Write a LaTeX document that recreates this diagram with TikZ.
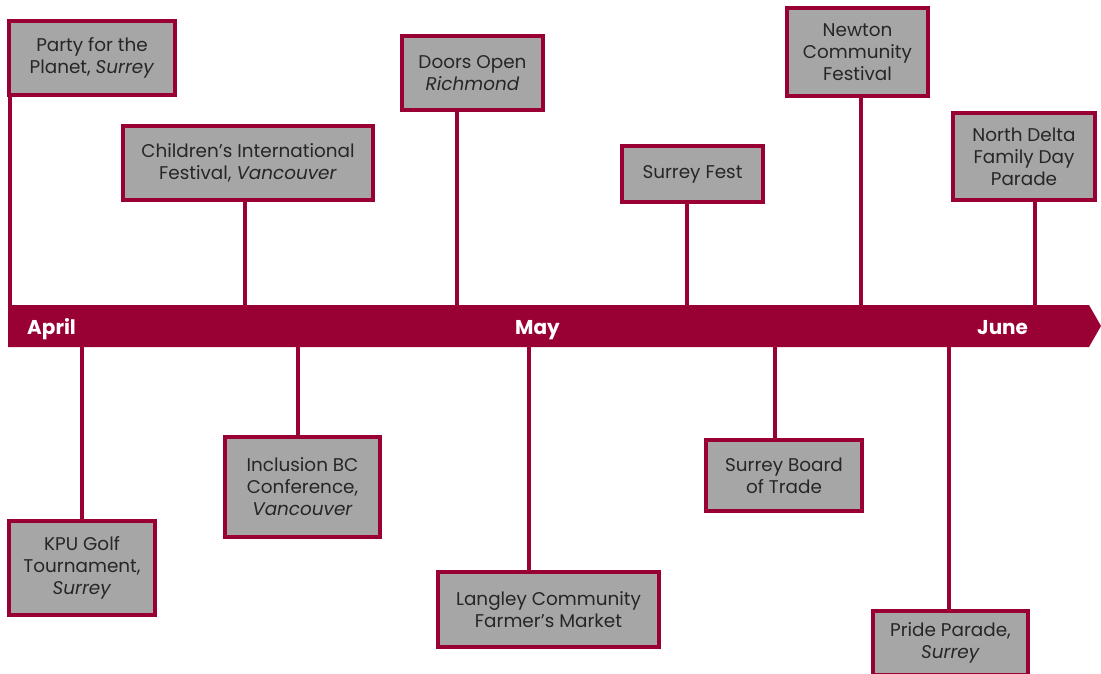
\documentclass[tikz,border=0pt]{standalone}
\usepackage{fontspec}
\setmainfont{Poppins}
\usepackage{tikz}
\usetikzlibrary{positioning,calc}
\definecolor{berry}{RGB}{153,0,51}
\definecolor{boxgrey}{RGB}{166,166,166}
\definecolor{ink}{RGB}{38,38,38}

\begin{document}
\begin{tikzpicture}[x=1pt,y=-1pt,
  event/.style={draw=berry, fill=boxgrey, line width=3.5pt, rectangle, inner sep=0pt, align=center, text=ink, font=\fontsize{18.4}{22}\selectfont},
  stem/.style={draw=berry, line width=4pt},
  month/.style={anchor=base west, text=white, inner sep=0pt, font=\bfseries\fontsize{20}{22}\selectfont}
  ]
  \useasboundingbox (0,0) rectangle (1101,673);

  % Bar
  \fill[berry] (8,305) -- (1089,305) -- (1101,326) -- (1089,347) -- (8,347) -- cycle;
  \node[month] (april) at (27,334) {April};
  \node[month] (may) at (515,334) {May};
  \node[month] (june) at (977,334) {June};

  % Events above
  \node[event, minimum width=166pt, minimum height=74pt] (party) at (92,58) {Party for the\\Planet, \textit{Surrey}};
  \node[event, minimum width=250pt, minimum height=74pt] (kids) at (248,163) {Children’s International\\Festival, \textit{Vancouver}};
  \node[event, minimum width=141pt, minimum height=74pt] (doors) at (472.5,73) {Doors Open\\\textit{Richmond}};
  \node[event, minimum width=141pt, minimum height=56pt] (fest) at (692.5,174) {Surrey Fest};
  \node[event, minimum width=141pt, minimum height=88pt] (newton) at (857.5,52) {Newton\\Community\\Festival};
  \node[event, minimum width=142pt, minimum height=87pt] (delta) at (1024,156.5) {North Delta\\Family Day\\Parade};

  % Events below
  \node[event, minimum width=146pt, minimum height=94pt] (kpu) at (82,568) {KPU Golf\\Tournament,\\\textit{Surrey}};
  \node[event, minimum width=155pt, minimum height=100pt] (incl) at (302.5,487) {Inclusion BC\\Conference,\\\textit{Vancouver}};
  \node[event, minimum width=221pt, minimum height=75pt] (langley) at (548.5,609.5) {Langley Community\\Farmer’s Market};
  \node[event, minimum width=156pt, minimum height=71pt] (board) at (784,475.5) {Surrey Board\\of Trade};
  \node[event, minimum width=155pt, minimum height=64pt] (pride) at (950.5,643) {Pride Parade,\\\textit{Surrey}};

  % Stems
  \coordinate (u1) at (10,305);
  \coordinate (u2) at (245,305);
  \coordinate (u3) at (457,305);
  \coordinate (u4) at (687,305);
  \coordinate (u5) at (861,305);
  \coordinate (u6) at (1035,305);
  \coordinate (d1) at (82,347);
  \coordinate (d2) at (298,347);
  \coordinate (d3) at (529,347);
  \coordinate (d4) at (775,347);
  \coordinate (d5) at (949,347);
  \draw[stem] (u1) -- (u1 |- party.south);
  \draw[stem] (u2) -- (u2 |- kids.south);
  \draw[stem] (u3) -- (u3 |- doors.south);
  \draw[stem] (u4) -- (u4 |- fest.south);
  \draw[stem] (u5) -- (u5 |- newton.south);
  \draw[stem] (u6) -- (u6 |- delta.south);
  \draw[stem] (d1) -- (d1 |- kpu.north);
  \draw[stem] (d2) -- (d2 |- incl.north);
  \draw[stem] (d3) -- (d3 |- langley.north);
  \draw[stem] (d4) -- (d4 |- board.north);
  \draw[stem] (d5) -- (d5 |- pride.north);

\end{tikzpicture}
\end{document}
